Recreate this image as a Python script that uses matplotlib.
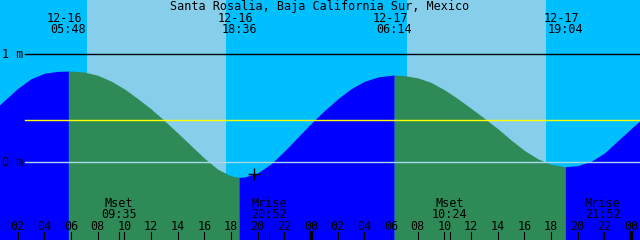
import numpy as np
import matplotlib
matplotlib.use("Agg")
import matplotlib.pyplot as plt
import matplotlib.transforms as mtransforms

# Tide level (m); hours counted from 12-16 00:00
tide_hours = [0, 1, 2, 3, 4, 5, 5.8, 6, 7, 8, 9, 10, 11, 12, 13, 14, 15, 16, 17, 18, 18.6,
              19, 20, 21, 22, 23, 24, 25, 26, 27, 28, 29, 30, 30.233, 31, 32, 33, 34, 35, 36,
              37, 38, 39, 40, 41, 42, 43, 43.067, 44, 45, 46, 47, 48, 49]
tide_m = [0.458, 0.573, 0.685, 0.774, 0.825, 0.842, 0.845, 0.845, 0.836, 0.806, 0.752, 0.680,
          0.590, 0.495, 0.386, 0.272, 0.155, 0.038, -0.064, -0.126, -0.139,
          -0.136, -0.098, -0.013, 0.104, 0.232, 0.360, 0.479, 0.588, 0.682, 0.750, 0.790, 0.806,
          0.808, 0.803, 0.782, 0.740, 0.672, 0.590, 0.500, 0.408, 0.312, 0.207, 0.110, 0.033,
          -0.018, -0.040, -0.041, -0.030, 0.009, 0.086, 0.200, 0.312, 0.420]

# high / low tides
ext_dates = ["12-16", "12-16", "12-17", "12-17"]
ext_times = ["05:48", "18:36", "06:14", "19:04"]
ext_kind = ["high", "low", "high", "low"]

# daylight
sunrise = ["12-16 07:12", "12-17 07:12"]
sunset = ["12-16 17:37", "12-17 17:37"]

# moon events
moon_dates = ["12-16", "12-16", "12-17", "12-17"]
moon_times = ["09:35", "20:52", "10:24", "21:52"]
moon_names = ["Mset", "Mrise", "Mset", "Mrise"]

mean_level = 0.389
now_hour = 19.74
now_level = -0.105

title = "Santa Rosalia, Baja California Sur, Mexico"
hour_labels = ["02", "04", "06", "08", "10", "12", "14", "16", "18", "20", "22", "00"]


def to_hours(date, hm):
    day = int(date.split("-")[1]) - 16
    h, m = hm.split(":")
    return day * 24 + int(h) + int(m) / 60.0


t0, t1 = 0.67, 48.67
ylo, yhi = -0.719, 1.503
W, H = 640, 240

fig = plt.figure(figsize=(6.4, 2.4), dpi=100)
ax = fig.add_axes([0, 0, 1, 1])
ax.set_xlim(t0, t1)
ax.set_ylim(ylo, yhi)
ax.axis("off")
ax.axvspan(t0, t1, color="#00bfff", lw=0, zorder=0)
for r, s in zip(sunrise, sunset):
    a = to_hours(*r.split())
    b = to_hours(*s.split())
    ax.axvspan(a, b, color="#87ceeb", lw=0, zorder=1)

# water, coloured by rising / falling
t = np.array(tide_hours)
lv = np.array(tide_m)
ext_h = [to_hours(d, s) for d, s in zip(ext_dates, ext_times)]
bounds = [t[0]] + ext_h + [t[-1]]
kinds = ext_kind + ["high" if ext_kind[-1] == "low" else "low"]
for a, b, k in zip(bounds[:-1], bounds[1:], kinds):
    m = (t >= a - 0.01) & (t <= b + 0.01)
    col = "#0000ff" if k == "high" else "#2e8b57"
    ax.fill_between(t[m], lv[m], ylo, color=col, lw=0, zorder=2)

x_left = 25 / W
ax.axhline(1, xmin=x_left, color="black", lw=1.0, zorder=3)
ax.axhline(0, xmin=x_left, color="#a8d8f0", lw=1.0, zorder=3)
ax.axhline(mean_level, xmin=x_left, color="yellow", lw=1.0, zorder=3)

font = dict(family="DejaVu Sans Mono", fontsize=8.5, color="black")
yt = mtransforms.blended_transform_factory(ax.transAxes, ax.transData)
ax.text(2 / W, 1, "1 m", transform=yt, va="center", ha="left", zorder=4, **font)
ax.text(2 / W, 0, "0 m", transform=yt, va="center", ha="left", zorder=4, **font)

bt = mtransforms.blended_transform_factory(ax.transData, ax.transAxes)
px_h = (t1 - t0) / W

fig.text(0.5, 1 - 10 / H, title, ha="center", va="baseline", **font)

for d, s, hx in zip(ext_dates, ext_times, ext_h):
    ax.text(hx - 4 * px_h, 1 - 22 / H, d, transform=bt, ha="center", va="baseline", zorder=4, **font)
    ax.text(hx, 1 - 33 / H, s, transform=bt, ha="center", va="baseline", zorder=4, **font)

for d, s, n in zip(moon_dates, moon_times, moon_names):
    hx = to_hours(d, s)
    ax.text(hx, 1 - 207 / H, n, transform=bt, ha="center", va="baseline", zorder=4, **font)
    ax.text(hx, 1 - 218 / H, s, transform=bt, ha="center", va="baseline", zorder=4, **font)
    ax.plot([hx, hx], [0, 8 / H], transform=bt, color="black", lw=0.8, zorder=4)

# hour ticks
for day in range(2):
    for i, lab in enumerate(hour_labels):
        hx = day * 24 + 2 * (i + 1)
        ax.text(hx, 1 - 230 / H, lab, transform=bt, ha="center", va="baseline", zorder=4, **font)
        lw = 2.4 if lab == "00" else 0.8
        ax.plot([hx, hx], [0, 8 / H], transform=bt, color="black", lw=lw, zorder=4)

ax.plot(now_hour, now_level, marker="+", color="black", markersize=9, mew=1.0, zorder=5)

fig.savefig("out.png", dpi=100)
